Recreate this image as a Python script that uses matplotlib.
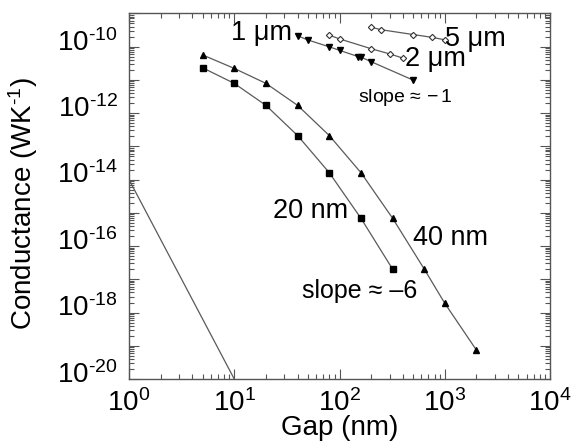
import numpy as np
import matplotlib
matplotlib.use("Agg")
import matplotlib.pyplot as plt
import matplotlib.transforms as mtransforms
from matplotlib.ticker import LogLocator, FuncFormatter, NullFormatter

plt.rcParams['font.family'] = ['Liberation Sans', 'DejaVu Sans']
plt.rcParams['mathtext.fontset'] = 'custom'
plt.rcParams['mathtext.rm'] = 'Liberation Sans'
plt.rcParams['mathtext.it'] = 'Liberation Sans:italic'
plt.rcParams['mathtext.default'] = 'regular'
plt.rcParams['axes.unicode_minus'] = False

# Gap-dependent conductance series
gap_20nm = [5, 10, 20, 40, 80, 160, 320]
g_20nm = [2.3e-11, 7.8e-12, 1.7e-12, 2.1e-13, 1.6e-14, 6.8e-16, 2.0e-17]

gap_40nm = [5, 10, 20, 40, 80, 160, 320, 640, 1000, 2000]
g_40nm = [5.6e-11, 2.2e-11, 7.8e-12, 1.7e-12, 2.1e-13, 1.6e-14, 6.8e-16,
          2.0e-17, 1.9e-18, 7.4e-20]

gap_1um = [40, 50, 80, 100, 150, 160, 200, 500]
g_1um = [2.1e-10, 1.58e-10, 9.8e-11, 7.7e-11, 5.0e-11, 4.8e-11, 3.5e-11, 9.8e-12]

gap_2um = [80, 100, 200, 300, 400]
g_2um = [2.2e-10, 1.7e-10, 8.6e-11, 6.0e-11, 4.5e-11]

gap_5um = [200, 250, 500, 750, 1000]
g_5um = [3.8e-10, 3.2e-10, 2.3e-10, 1.9e-10, 1.6e-10]

# Reference power law with slope -6
ref_gap = [1, 10]
ref_g = [1e-14, 1e-20]

fig = plt.figure(figsize=(5.76, 4.47), dpi=100)
ax = fig.add_axes([129/576, 1 - 379/447, 421/576, (379 - 13.3)/447])

line_c = '#5a5a5a'
lw = 0.9
ax.plot(ref_gap, ref_g, color=line_c, lw=lw)
ax.plot(gap_20nm, g_20nm, color=line_c, lw=lw, marker='s', ms=4.2,
        mfc='black', mec='black')
ax.plot(gap_40nm, g_40nm, color=line_c, lw=lw, marker='^', ms=4.2,
        mfc='black', mec='black')
ax.plot(gap_1um, g_1um, color=line_c, lw=lw, marker='v', ms=4.2,
        mfc='black', mec='black')
ax.plot(gap_2um, g_2um, color=line_c, lw=lw, marker='D', ms=3.2,
        mfc='white', mec='#333333', mew=0.8)
ax.plot(gap_5um, g_5um, color=line_c, lw=lw, marker='D', ms=3.2,
        mfc='white', mec='#333333', mew=0.8)

ax.set_xscale('log')
ax.set_yscale('log')
ax.set_xlim(1, 1e4)
ax.set_ylim(1e-20, 1e-9)

ax.xaxis.set_major_locator(LogLocator(base=10, numticks=20))
ax.xaxis.set_minor_locator(LogLocator(base=10, subs=np.arange(2, 10), numticks=50))
ax.yaxis.set_major_locator(LogLocator(base=10, numticks=30))
ax.yaxis.set_minor_locator(LogLocator(base=10, subs=np.arange(2, 10), numticks=100))
ax.xaxis.set_minor_formatter(NullFormatter())
ax.yaxis.set_minor_formatter(NullFormatter())


def sci(e):
    if e < 0:
        return r'$10^{\text{-}%d}$' % (-e)
    return r'$10^{%d}$' % e


def xfmt(v, pos):
    return sci(int(round(np.log10(v))))


def yfmt(v, pos):
    e = int(round(np.log10(v)))
    return sci(e) if e % 2 == 0 else ''


ax.xaxis.set_major_formatter(FuncFormatter(xfmt))
ax.yaxis.set_major_formatter(FuncFormatter(yfmt))

spine_c = '#555555'
for s in ax.spines.values():
    s.set_color(spine_c)
    s.set_linewidth(1.0)
ax.tick_params(which='both', direction='in', top=True, right=True,
               color=spine_c, width=0.8)
ax.tick_params(which='major', length=7, labelsize=20)
ax.tick_params(which='minor', length=3.5)
ax.tick_params(axis='y', which='major', pad=8)
ax.tick_params(axis='x', which='major', pad=7)

# nudge the y tick labels slightly upward
shift = mtransforms.ScaledTranslation(0, 5/72, fig.dpi_scale_trans)
for lab in ax.get_yticklabels():
    lab.set_transform(lab.get_transform() + shift)

ax.set_xlabel('Gap (nm)', fontsize=20)
ax.set_ylabel(r'Conductance (WK$^{\text{-}1}$)', fontsize=20)
ax.xaxis.set_label_coords(0.5, -0.098)
ax.yaxis.set_label_coords(-0.212, 0.48)

fs = 19.5
ax.text(35.4, 2.6e-10, '1 μm', fontsize=fs, ha='right', va='center')
ax.text(1005, 1.7e-10, '5 μm', fontsize=fs, ha='left', va='center')
ax.text(419, 4.3e-11, '2 μm', fontsize=fs, ha='left', va='center')
ax.text(150, 2.9e-12, r'slope$\,\approx -1$', fontsize=14, ha='left',
        va='center', math_fontfamily='stix')
ax.text(23.2, 1.1e-15, '20 nm', fontsize=fs, ha='left', va='center')
ax.text(499, 1.7e-16, '40 nm', fontsize=fs, ha='left', va='center')
ax.text(43.7, 4.5e-18, 'slope ≈ –6', fontsize=18, ha='left', va='center')

fig.savefig('out.png', dpi=100)
